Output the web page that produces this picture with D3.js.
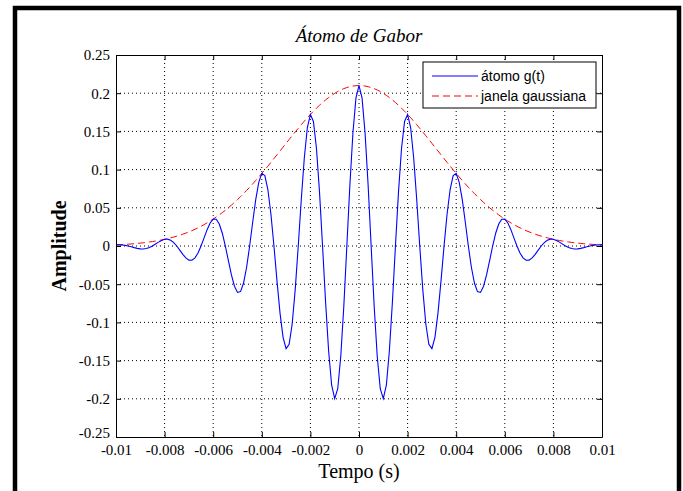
<!DOCTYPE html>
<html>
<head>
<meta charset="utf-8">
<script src="https://cdn.jsdelivr.net/npm/d3@7"></script>
<style>
  body { margin: 0; background: #fff; }
  .tick text { font-family: "Liberation Serif", "Times New Roman", serif !important; font-size: 15px !important; }
</style>
</head>
<body>
<div id="viz"></div>
<script>
// sample times in milliseconds (sampled at 8 kHz)
let timeMs = [
  -10,-9.875,-9.75,-9.625,-9.5,-9.375,-9.25,-9.125,
  -9,-8.875,-8.75,-8.625,-8.5,-8.375,-8.25,-8.125,
  -8,-7.875,-7.75,-7.625,-7.5,-7.375,-7.25,-7.125,
  -7,-6.875,-6.75,-6.625,-6.5,-6.375,-6.25,-6.125,
  -6,-5.875,-5.75,-5.625,-5.5,-5.375,-5.25,-5.125,
  -5,-4.875,-4.75,-4.625,-4.5,-4.375,-4.25,-4.125,
  -4,-3.875,-3.75,-3.625,-3.5,-3.375,-3.25,-3.125,
  -3,-2.875,-2.75,-2.625,-2.5,-2.375,-2.25,-2.125,
  -2,-1.875,-1.75,-1.625,-1.5,-1.375,-1.25,-1.125,
  -1,-0.875,-0.75,-0.625,-0.5,-0.375,-0.25,-0.125,
  0,0.125,0.25,0.375,0.5,0.625,0.75,0.875,
  1,1.125,1.25,1.375,1.5,1.625,1.75,1.875,
  2,2.125,2.25,2.375,2.5,2.625,2.75,2.875,
  3,3.125,3.25,3.375,3.5,3.625,3.75,3.875,
  4,4.125,4.25,4.375,4.5,4.625,4.75,4.875,
  5,5.125,5.25,5.375,5.5,5.625,5.75,5.875,
  6,6.125,6.25,6.375,6.5,6.625,6.75,6.875,
  7,7.125,7.25,7.375,7.5,7.625,7.75,7.875,
  8,8.125,8.25,8.375,8.5,8.625,8.75,8.875,
  9,9.125,9.25,9.375,9.5,9.625,9.75,9.875,
  10
];

// gabor atom values g(t)
let atom = [
  0.0015,0.0015,0.0013,0.0008,0,-0.0010,-0.0021,-0.0031,-0.0038,-0.0039,
  -0.0033,-0.0020,0,0.0025,0.0051,0.0073,0.0088,0.0090,0.0075,0.0045,
  0,-0.0054,-0.0110,-0.0156,-0.0185,-0.0186,-0.0155,-0.0091,0,0.0107,
  0.0214,0.0302,0.0352,0.0350,0.0288,0.0167,0,-0.0192,-0.0378,-0.0527,
  -0.0608,-0.0597,-0.0485,-0.0278,0,0.0311,0.0606,0.0834,0.0950,0.0921,
  0.0739,0.0419,0,-0.0457,-0.0879,-0.1195,-0.1344,-0.1288,-0.1021,-0.0571,
  0,0.0608,0.1155,0.1551,0.1722,0.1630,0.1276,0.0705,0,-0.0732,
  -0.1374,-0.1822,-0.1998,-0.1868,-0.1444,-0.0788,0,0.0798,0.1480,0.1939,
  0.2100,
  0.1939,0.1480,0.0798,0,-0.0788,-0.1444,-0.1868,-0.1998,-0.1822,
  -0.1374,-0.0732,0,0.0705,0.1276,0.1630,0.1722,0.1551,0.1155,0.0608,
  0,-0.0571,-0.1021,-0.1288,-0.1344,-0.1195,-0.0879,-0.0457,0,0.0419,
  0.0739,0.0921,0.0950,0.0834,0.0606,0.0311,0,-0.0278,-0.0485,-0.0597,
  -0.0608,-0.0527,-0.0378,-0.0192,0,0.0167,0.0288,0.0350,0.0352,0.0302,
  0.0214,0.0107,0,-0.0091,-0.0155,-0.0186,-0.0185,-0.0156,-0.0110,-0.0054,
  0,0.0045,0.0075,0.0090,0.0088,0.0073,0.0051,0.0025,0,-0.0020,
  -0.0033,-0.0039,-0.0038,-0.0031,-0.0021,-0.0010,0,0.0008,0.0013,0.0015,
  0.0015
];

// gaussian window values
let janela = [
  0.0015,0.0017,0.0019,0.0021,0.0024,0.0027,0.0030,0.0034,0.0038,0.0042,
  0.0047,0.0053,0.0058,0.0065,0.0072,0.0079,0.0088,0.0097,0.0107,0.0117,
  0.0129,0.0141,0.0155,0.0169,0.0185,0.0201,0.0219,0.0238,0.0258,0.0280,
  0.0303,0.0327,0.0352,0.0379,0.0407,0.0437,0.0468,0.0501,0.0535,0.0571,
  0.0608,0.0646,0.0686,0.0727,0.0769,0.0813,0.0857,0.0903,0.0950,0.0997,
  0.1045,0.1094,0.1144,0.1194,0.1244,0.1294,0.1344,0.1394,0.1443,0.1492,
  0.1540,0.1588,0.1634,0.1679,0.1722,0.1764,0.1804,0.1842,0.1878,0.1912,
  0.1943,0.1972,0.1998,0.2022,0.2042,0.2060,0.2074,0.2085,0.2094,0.2098,
  0.2100,
  0.2098,0.2094,0.2085,0.2074,0.2060,0.2042,0.2022,0.1998,0.1972,
  0.1943,0.1912,0.1878,0.1842,0.1804,0.1764,0.1722,0.1679,0.1634,0.1588,
  0.1540,0.1492,0.1443,0.1394,0.1344,0.1294,0.1244,0.1194,0.1144,0.1094,
  0.1045,0.0997,0.0950,0.0903,0.0857,0.0813,0.0769,0.0727,0.0686,0.0646,
  0.0608,0.0571,0.0535,0.0501,0.0468,0.0437,0.0407,0.0379,0.0352,0.0327,
  0.0303,0.0280,0.0258,0.0238,0.0219,0.0201,0.0185,0.0169,0.0155,0.0141,
  0.0129,0.0117,0.0107,0.0097,0.0088,0.0079,0.0072,0.0065,0.0058,0.0053,
  0.0047,0.0042,0.0038,0.0034,0.0030,0.0027,0.0024,0.0021,0.0019,0.0017,
  0.0015
];

// tick values and their labels
let xTicks = [-0.01,-0.008,-0.006,-0.004,-0.002,0,0.002,0.004,0.006,0.008,0.01];
let xTickLabels = ["-0.01","-0.008","-0.006","-0.004","-0.002","0","0.002","0.004","0.006","0.008","0.01"];
let yTicks = [-0.25,-0.2,-0.15,-0.1,-0.05,0,0.05,0.1,0.15,0.2,0.25];
let yTickLabels = ["-0.25","-0.2","-0.15","-0.1","-0.05","0","0.05","0.1","0.15","0.2","0.25"];

let seriesNames = ["átomo g(t)", "janela gaussiana"];

const serif = "'Liberation Serif', 'Times New Roman', serif";

// dimensions
let dimensions = {
    width: 683,
    height: 491,
    margins: { top: 55, right: 81, bottom: 54, left: 116 }
}
dimensions.boundedWidth = dimensions.width - dimensions.margins.left - dimensions.margins.right;
dimensions.boundedHeight = dimensions.height - dimensions.margins.top - dimensions.margins.bottom;

const svg = d3.select("#viz").append("svg")
    .attr("width", dimensions.width)
    .attr("height", dimensions.height)
    .style("font-family", serif);

// thick black frame around the figure
svg.append("rect")
    .attr("x", 15)
    .attr("y", 8)
    .attr("width", 664)
    .attr("height", 500)
    .attr("fill", "none")
    .attr("stroke", "#000")
    .attr("stroke-width", 4.5);

const bounds = svg.append("g")
    .attr("transform", `translate(${dimensions.margins.left},${dimensions.margins.top})`);

// scales
const xScale = d3.scaleLinear()
    .domain([-0.01, 0.01])
    .range([0, dimensions.boundedWidth]);

const yScale = d3.scaleLinear()
    .domain([-0.25, 0.25])
    .range([dimensions.boundedHeight, 0]);

// dotted grid
bounds.append("g")
    .selectAll("line")
    .data(xTicks.slice(1, -1))
    .join("line")
        .attr("x1", d => xScale(d)).attr("x2", d => xScale(d))
        .attr("y1", 0).attr("y2", dimensions.boundedHeight)
        .attr("stroke", "#000")
        .attr("stroke-dasharray", "1,3");

bounds.append("g")
    .selectAll("line")
    .data(yTicks.slice(1, -1))
    .join("line")
        .attr("x1", 0).attr("x2", dimensions.boundedWidth)
        .attr("y1", d => yScale(d)).attr("y2", d => yScale(d))
        .attr("stroke", "#000")
        .attr("stroke-dasharray", "1,3");

// data lines
const points = timeMs.map((t, i) => ({ t: t / 1000, g: atom[i], w: janela[i] }));

const atomLine = d3.line()
    .x(d => xScale(d.t))
    .y(d => yScale(d.g));

const windowLine = d3.line()
    .x(d => xScale(d.t))
    .y(d => yScale(d.w));

bounds.append("path")
    .datum(points)
    .attr("d", windowLine)
    .attr("fill", "none")
    .attr("stroke", "#ff0000")
    .attr("stroke-width", 1)
    .attr("stroke-dasharray", "7,4");

bounds.append("path")
    .datum(points)
    .attr("d", atomLine)
    .attr("fill", "none")
    .attr("stroke", "#0000ff")
    .attr("stroke-width", 1.1);

// axes: ticks point inward like matlab
const xAxisBottom = d3.axisBottom(xScale)
    .tickValues(xTicks)
    .tickFormat((d, i) => xTickLabels[i])
    .tickSizeInner(-5)
    .tickSizeOuter(0)
    .tickPadding(7);

const xAxisTop = d3.axisTop(xScale)
    .tickValues(xTicks)
    .tickFormat("")
    .tickSizeInner(-5)
    .tickSizeOuter(0);

const yAxisLeft = d3.axisLeft(yScale)
    .tickValues(yTicks)
    .tickFormat((d, i) => yTickLabels[i])
    .tickSizeInner(-5)
    .tickSizeOuter(0)
    .tickPadding(6);

const yAxisRight = d3.axisRight(yScale)
    .tickValues(yTicks)
    .tickFormat("")
    .tickSizeInner(-5)
    .tickSizeOuter(0);

// d3 puts its own font attributes on the axis group, so override them there
const axisStyle = g => {
    g.attr("font-family", serif).attr("font-size", 15);
    g.selectAll("path, line").attr("stroke", "#000");
    g.selectAll("text").attr("fill", "#000");
};

bounds.append("g")
    .attr("transform", `translate(0,${dimensions.boundedHeight})`)
    .call(xAxisBottom)
    .call(axisStyle);

bounds.append("g")
    .call(xAxisTop)
    .call(axisStyle);

const yAxisGroup = bounds.append("g")
    .call(yAxisLeft)
    .call(axisStyle);

// lift the bottom y label a little so it clears the first x label
yAxisGroup.selectAll(".tick text")
    .filter(d => d === yTicks[0])
    .attr("dy", "0.05em");

bounds.append("g")
    .attr("transform", `translate(${dimensions.boundedWidth},0)`)
    .call(yAxisRight)
    .call(axisStyle);

// title and axis labels
svg.append("text")
    .attr("x", dimensions.margins.left + dimensions.boundedWidth / 2)
    .attr("y", 42)
    .attr("text-anchor", "middle")
    .style("font-style", "italic")
    .style("font-size", "19px")
    .text("Átomo de Gabor");

svg.append("text")
    .attr("x", dimensions.margins.left + dimensions.boundedWidth / 2)
    .attr("y", 478)
    .attr("text-anchor", "middle")
    .style("font-size", "20px")
    .text("Tempo (s)");

svg.append("text")
    .attr("transform", `translate(66,${dimensions.margins.top + dimensions.boundedHeight / 2}) rotate(-90)`)
    .attr("text-anchor", "middle")
    .style("font-weight", "bold")
    .style("font-size", "20px")
    .text("Amplitude");

// legend
const legend = svg.append("g")
    .attr("transform", "translate(423,62)");

legend.append("rect")
    .attr("width", 173)
    .attr("height", 46)
    .attr("fill", "#fff")
    .attr("stroke", "#000");

let legendStyles = [
    { color: "#0000ff", dash: null },
    { color: "#ff0000", dash: "7,4" }
];

seriesNames.forEach((name, i) => {
    let y = 14 + i * 20;
    legend.append("line")
        .attr("x1", 9).attr("x2", 55)
        .attr("y1", y).attr("y2", y)
        .attr("stroke", legendStyles[i].color)
        .attr("stroke-width", 1.1)
        .attr("stroke-dasharray", legendStyles[i].dash);
    legend.append("text")
        .attr("x", 58)
        .attr("y", y)
        .attr("dy", "0.35em")
        .style("font-family", "Arial, 'Liberation Sans', sans-serif")
        .style("font-size", "14px")
        .text(name);
});
</script>
</body>
</html>
